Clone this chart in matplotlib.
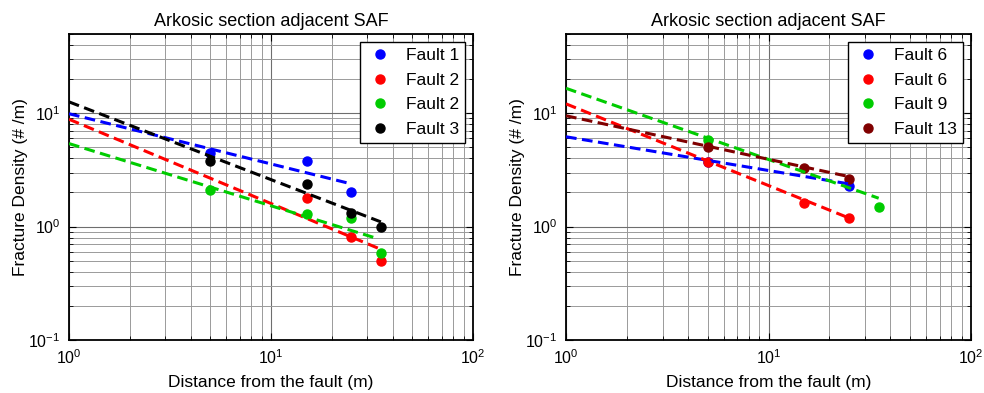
import matplotlib.pyplot as plt

plt.rcParams['font.family'] = ['Liberation Sans', 'DejaVu Sans']

# left panel: measured points
dist_f1 = [5, 15, 25]
dens_f1 = [4.5, 3.8, 2.0]
dist_f2a = [15, 25, 35]
dens_f2a = [1.8, 0.81, 0.5]
dist_f2b = [5, 15, 25, 35]
dens_f2b = [2.1, 1.29, 1.2, 0.59]
dist_f3 = [5, 15, 25, 35]
dens_f3 = [3.8, 2.4, 1.31, 0.99]

# left panel: fitted trend lines (end points)
fit_f1_x = [1, 25]
fit_f1_y = [9.9, 2.38]
fit_f2a_x = [1, 35]
fit_f2a_y = [8.85, 0.63]
fit_f2b_x = [1, 34]
fit_f2b_y = [5.4, 0.78]
fit_f3_x = [1, 35]
fit_f3_y = [12.6, 1.1]

# right panel: measured points
dist_f6a = [5, 25]
dens_f6a = [3.7, 2.3]
dist_f6b = [5, 15, 25]
dens_f6b = [3.7, 1.61, 1.2]
dist_f9 = [5, 35]
dens_f9 = [5.8, 1.5]
dist_f13 = [5, 15, 25]
dens_f13 = [5.0, 3.3, 2.62]

# right panel: fitted trend lines
fit_f6a_x = [1, 25]
fit_f6a_y = [6.2, 2.38]
fit_f6b_x = [1, 25]
fit_f6b_y = [12.1, 1.19]
fit_f9_x = [1, 35]
fit_f9_y = [16.6, 1.78]
fit_f13_x = [1, 25]
fit_f13_y = [9.5, 2.76]

left_series = [
    (dist_f1, dens_f1, fit_f1_x, fit_f1_y, '#0000ff', 'Fault 1'),
    (dist_f2a, dens_f2a, fit_f2a_x, fit_f2a_y, '#ff0000', 'Fault 2'),
    (dist_f2b, dens_f2b, fit_f2b_x, fit_f2b_y, '#00cc00', 'Fault 2'),
    (dist_f3, dens_f3, fit_f3_x, fit_f3_y, '#000000', 'Fault 3'),
]
right_series = [
    (dist_f6a, dens_f6a, fit_f6a_x, fit_f6a_y, '#0000ff', 'Fault 6'),
    (dist_f6b, dens_f6b, fit_f6b_x, fit_f6b_y, '#ff0000', 'Fault 6'),
    (dist_f9, dens_f9, fit_f9_x, fit_f9_y, '#00cc00', 'Fault 9'),
    (dist_f13, dens_f13, fit_f13_x, fit_f13_y, '#800000', 'Fault 13'),
]


def draw_panel(ax, series):
    handles = []
    for x, y, fx, fy, col, name in series:
        h, = ax.plot(x, y, 'o', color=col, markersize=6.5, label=name, zorder=3)
        handles.append(h)
    for x, y, fx, fy, col, name in series:
        ax.plot(fx, fy, '--', color=col, linewidth=2.2, dashes=(3.5, 1.8), zorder=4)
    ax.set_xscale('log')
    ax.set_yscale('log')
    ax.set_xlim(1, 100)
    ax.set_ylim(0.1, 50)
    ax.grid(True, which='major', color='#6e6e6e', linewidth=0.8)
    ax.grid(True, which='minor', color='#9a9a9a', linewidth=0.7)
    ax.tick_params(which='both', direction='in', top=True, right=True, labelsize=11.5)
    ax.tick_params(which='major', length=5, pad=6)
    ax.tick_params(which='minor', length=3)
    for s in ax.spines.values():
        s.set_linewidth(1.3)
    ax.set_title('Arkosic section adjacent SAF', fontsize=13, pad=6)
    ax.set_xlabel('Distance from the fault (m)', fontsize=12.5, labelpad=6)
    ax.set_ylabel('Fracture Density (# /m)', fontsize=12.5, labelpad=0)
    leg = ax.legend(handles=handles, loc='upper right', fontsize=12.5, frameon=True,
                    fancybox=False, edgecolor='black', framealpha=1,
                    handletextpad=0.7, borderaxespad=0.45, labelspacing=0.55,
                    handlelength=1.6, borderpad=0.35)
    leg.get_frame().set_linewidth(1.0)


fig = plt.figure(figsize=(9.84, 3.93), dpi=100)
ax1 = fig.add_axes([0.0701, 0.1349, 0.4106, 0.7786])
ax2 = fig.add_axes([0.5752, 0.1349, 0.4116, 0.7786])
draw_panel(ax1, left_series)
draw_panel(ax2, right_series)

fig.savefig('out.png', dpi=100)
